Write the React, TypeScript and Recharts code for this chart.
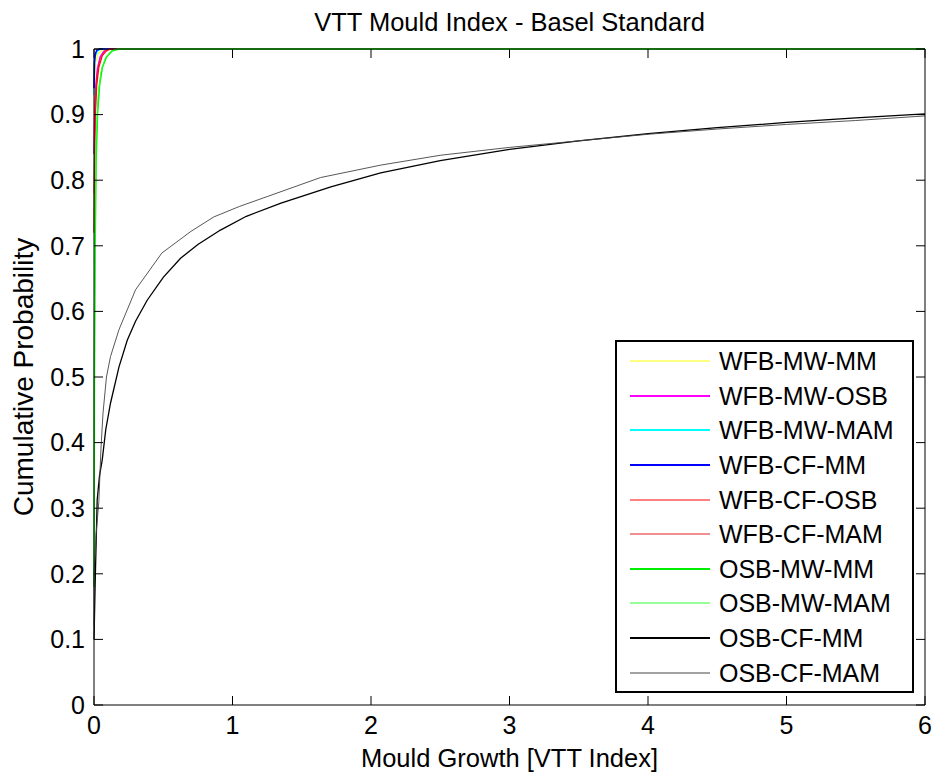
import { LineChart, Line, XAxis, YAxis, Legend } from "recharts";

const FONT = "'Liberation Sans', Arial, Helvetica, sans-serif";

const xTicks = [0, 1, 2, 3, 4, 5, 6];
const yTicks = [0, 0.1, 0.2, 0.3, 0.4, 0.5, 0.6, 0.7, 0.8, 0.9, 1];

// cumulative curves
const wfbMwMmX = [0, 0.004, 0.012, 0.03, 0.06, 0.09, 6];
const wfbMwMmY = [0.9, 0.95, 0.98, 0.993, 0.998, 1, 1];

const wfbMwOsbX = [0, 0.005, 0.012, 0.025, 0.045, 0.07, 0.1, 6];
const wfbMwOsbY = [0.84, 0.9, 0.94, 0.97, 0.988, 0.996, 1, 1];

const wfbMwMamX = [0, 0.003, 0.01, 0.025, 0.05, 6];
const wfbMwMamY = [0.93, 0.975, 0.99, 0.997, 1, 1];

const wfbCfMmX = [0, 0.003, 0.01, 0.02, 0.04, 6];
const wfbCfMmY = [0.94, 0.98, 0.993, 0.998, 1, 1];

const wfbCfOsbX = [0, 0.004, 0.01, 0.02, 0.035, 0.06, 0.09, 0.12, 6];
const wfbCfOsbY = [0.72, 0.82, 0.9, 0.945, 0.972, 0.99, 0.997, 1, 1];

const wfbCfMamX = [0, 0.004, 0.01, 0.02, 0.04, 0.07, 0.1, 6];
const wfbCfMamY = [0.78, 0.87, 0.93, 0.96, 0.982, 0.995, 1, 1];

const osbMwMmX = [0, 0.003, 0.008, 0.015, 0.025, 0.04, 0.06, 0.09, 0.13, 0.18, 6];
const osbMwMmY = [0.18, 0.5, 0.7, 0.83, 0.9, 0.945, 0.972, 0.988, 0.997, 1, 1];

const osbMwMamX = [0, 0.003, 0.008, 0.015, 0.03, 0.05, 0.08, 0.12, 0.16, 6];
const osbMwMamY = [0.3, 0.6, 0.76, 0.86, 0.93, 0.965, 0.985, 0.996, 1, 1];

const osbCfMmX = [0, 0.01, 0.023, 0.04, 0.059, 0.085, 0.119, 0.18, 0.24, 0.3, 0.384, 0.5, 0.625, 0.75, 0.913, 1.1, 1.35, 1.71, 2.07, 2.5, 3, 3.5, 4, 4.5, 5, 5.5, 6];
const osbCfMmY = [0.1, 0.2, 0.3125, 0.35, 0.373, 0.42, 0.46, 0.515, 0.556, 0.585, 0.617, 0.652, 0.681, 0.702, 0.724, 0.745, 0.765, 0.79, 0.811, 0.83, 0.847, 0.86, 0.871, 0.88, 0.888, 0.895, 0.901];

const osbCfMamX = [0, 0, 0.015, 0.035, 0.05, 0.065, 0.09, 0.119, 0.18, 0.3, 0.49, 0.7, 0.865, 1.05, 1.25, 1.635, 2.07, 2.5, 3, 3.5, 4, 4.5, 5, 5.5, 6];
const osbCfMamY = [0.12, 0.2, 0.26, 0.31, 0.39, 0.445, 0.5, 0.531, 0.572, 0.633, 0.689, 0.722, 0.744, 0.76, 0.775, 0.804, 0.823, 0.838, 0.85, 0.86, 0.87, 0.878, 0.885, 0.891, 0.898];

const zip = (xs: number[], ys: number[]) => xs.map((x, i) => ({ x, y: ys[i] }));

const series = [
  { name: "WFB-MW-MM", color: "#ffff00", width: 1, data: zip(wfbMwMmX, wfbMwMmY) },
  { name: "WFB-MW-OSB", color: "#ff00ff", width: 1.6, data: zip(wfbMwOsbX, wfbMwOsbY) },
  { name: "WFB-MW-MAM", color: "#00ffff", width: 1.6, data: zip(wfbMwMamX, wfbMwMamY) },
  { name: "WFB-CF-MM", color: "#0000ff", width: 1.6, data: zip(wfbCfMmX, wfbCfMmY) },
  { name: "WFB-CF-OSB", color: "#ff0000", width: 1.2, data: zip(wfbCfOsbX, wfbCfOsbY) },
  { name: "WFB-CF-MAM", color: "#e02020", width: 0.8, data: zip(wfbCfMamX, wfbCfMamY) },
  { name: "OSB-MW-MM", color: "#00ee00", width: 1.6, data: zip(osbMwMmX, osbMwMmY) },
  { name: "OSB-MW-MAM", color: "#33ff33", width: 0.9, data: zip(osbMwMamX, osbMwMamY) },
  { name: "OSB-CF-MM", color: "#000000", width: 1.3, data: zip(osbCfMmX, osbCfMmY) },
  { name: "OSB-CF-MAM", color: "#444444", width: 0.9, data: zip(osbCfMamX, osbCfMamY) },
];

const tickStyle = { fontSize: 25, fill: "#000", fontFamily: FONT };
const noLabel = () => "";

const renderLegend = () => (
  <div
    style={{
      width: 299,
      height: 353,
      boxSizing: "border-box",
      border: "2px solid #000",
      background: "#fff",
      paddingTop: 2,
      fontFamily: FONT,
    }}
  >
    {series.map((s) => (
      <div key={s.name} style={{ height: 34.6, display: "flex", alignItems: "center" }}>
        <svg width={80} height={6} style={{ marginLeft: 13, display: "block" }}>
          <line x1={0} y1={3} x2={80} y2={3} stroke={s.color} strokeWidth={s.width >= 1.3 ? 2 : 1} />
        </svg>
        <span style={{ marginLeft: 9, fontSize: 25, lineHeight: "28px", color: "#000", whiteSpace: "nowrap" }}>{s.name}</span>
      </div>
    ))}
  </div>
);

export default function App() {
  return (
    <div style={{ position: "absolute", left: 0, top: 0, width: 935, height: 776, background: "#fff" }}>
      <div
        style={{
          position: "absolute",
          left: 94,
          width: 831,
          top: 8,
          textAlign: "center",
          fontFamily: FONT,
          fontSize: 25.5,
          lineHeight: "29px",
          color: "#000",
        }}
      >
        VTT Mould Index - Basel Standard
      </div>
      <LineChart width={935} height={776} margin={{ top: 49, right: 10, bottom: 0, left: 0 }}>
        <XAxis
          xAxisId="b"
          dataKey="x"
          type="number"
          domain={[0, 6]}
          ticks={xTicks}
          height={71}
          tickLine={false}
          tickSize={6}
          tickMargin={5}
          axisLine={{ stroke: "#000", strokeWidth: 1 }}
          tick={tickStyle}
          label={(props: any) => {
            const vb = props.viewBox;
            return (
              <text x={vb.x + vb.width / 2} y={vb.y + 62} textAnchor="middle" fontSize={25.5} fontFamily={FONT} fill="#000">
                Mould Growth [VTT Index]
              </text>
            );
          }}
        />
        <XAxis xAxisId="bt" dataKey="x" type="number" domain={[0, 6]} ticks={xTicks} allowDataOverflow mirror orientation="bottom" axisLine={false} tickSize={9} tickLine={{ stroke: "#000" }} tickFormatter={noLabel} />
        <XAxis xAxisId="t" dataKey="x" type="number" domain={[0, 6]} ticks={xTicks} allowDataOverflow mirror orientation="top" axisLine={{ stroke: "#000" }} tickSize={9} tickLine={{ stroke: "#000" }} tickFormatter={noLabel} />
        <YAxis
          yAxisId="l"
          type="number"
          domain={[0, 1]}
          ticks={yTicks}
          width={94}
          tickLine={false}
          tickSize={6}
          tickMargin={3}
          axisLine={{ stroke: "#000", strokeWidth: 1 }}
          tick={tickStyle}
          label={(props: any) => {
            const vb = props.viewBox;
            const cx = 33;
            const cy = vb.y + vb.height / 2;
            return (
              <text x={cx} y={cy} transform={`rotate(-90, ${cx}, ${cy})`} textAnchor="middle" fontSize={28} fontFamily={FONT} fill="#000">
                Cumulative Probability
              </text>
            );
          }}
        />
        <YAxis yAxisId="lt" type="number" domain={[0, 1]} ticks={yTicks} allowDataOverflow mirror orientation="left" axisLine={false} tickSize={9} tickLine={{ stroke: "#000" }} tickFormatter={noLabel} />
        <YAxis yAxisId="r" type="number" domain={[0, 1]} ticks={yTicks} allowDataOverflow mirror orientation="right" axisLine={{ stroke: "#000" }} tickSize={9} tickLine={{ stroke: "#000" }} tickFormatter={noLabel} />
        {series.map((s) => (
          <Line
            key={s.name}
            xAxisId="b"
            yAxisId="l"
            data={s.data}
            dataKey="y"
            name={s.name}
            type="linear"
            stroke={s.color}
            strokeWidth={s.width}
            dot={false}
            activeDot={false}
            isAnimationActive={false}
          />
        ))}
        <Legend
          layout="vertical"
          align="center"
          verticalAlign="middle"
          content={renderLegend}
          wrapperStyle={{ left: 615, top: 340, width: 299, height: 353 }}
        />
      </LineChart>
    </div>
  );
}
